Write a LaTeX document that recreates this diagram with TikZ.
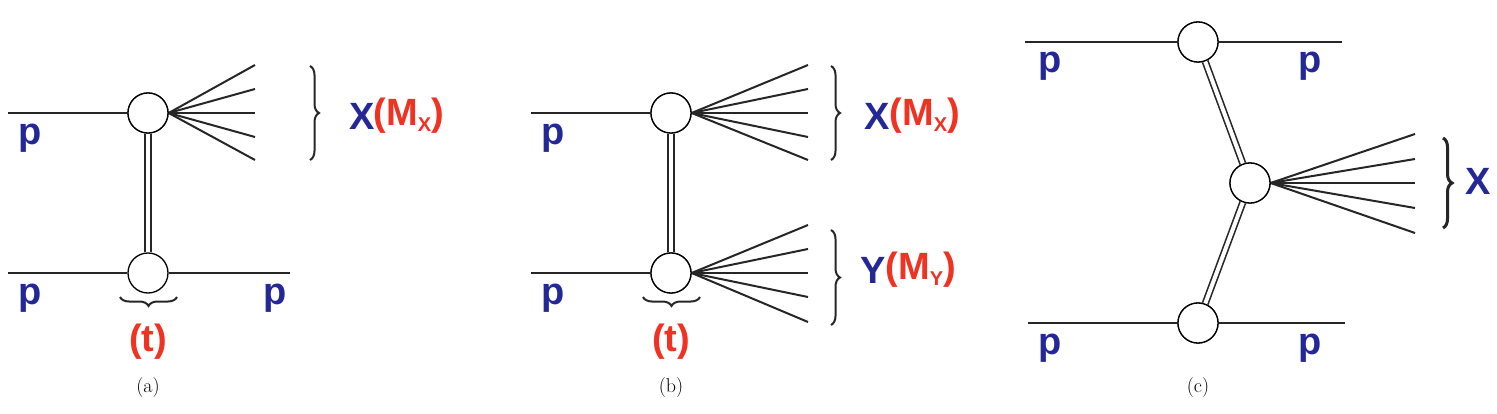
\documentclass[tikz,border=0pt]{standalone}
\usepackage{fontspec}
\setmainfont{Latin Modern Roman}
\newfontfamily\lab{Liberation Sans}
\usetikzlibrary{decorations.pathreplacing}
\definecolor{pblue}{RGB}{35,40,150}
\definecolor{pred}{RGB}{240,50,35}
\begin{document}
\begin{tikzpicture}[x=1pt,y=-1pt,
  vert/.style={circle,draw,line width=1.3pt,minimum size=40pt,inner sep=0pt,fill=white},
  ln/.style={line width=2pt,black!85},
  dbl/.style={line width=1.6pt,double=white,double distance=4pt,black!85},
  pl/.style={text=pblue,font=\lab\bfseries\fontsize{38}{38}\selectfont},
  rl/.style={text=pred,font=\lab\bfseries\fontsize{38}{38}\selectfont},
  br/.style={decorate,decoration={brace,amplitude=9pt},line width=2pt,black!85},
  captxt/.style={font=\fontsize{20}{20}\selectfont}]
\useasboundingbox (0,0) rectangle (1497,414);
% (a)
\node[vert] (a1) at (148,113) {};
\node[vert] (a2) at (148,273) {};
\coordinate (a1l) at (8,113); \coordinate (a2l) at (8,273); \coordinate (a2r) at (290,273);
\draw[ln] (a1l) -- (a1.west); \draw[ln] (a2l) -- (a2.west); \draw[ln] (a2.east) -- (a2r);
\draw[dbl] (a1.south) -- (a2.north);
\foreach \y in {65,89,113,137,160} \draw[ln] (a1.east) -- (255,\y);
\node[vert] at (148,113) {};
\draw[br] (310,66) -- (310,160);
\node[pl] (ax) at (362,116) {X};
\node[rl,anchor=west] (am) at (370,116) {(M\raisebox{-6pt}{\fontsize{20}{20}\selectfont X})};
\node[pl] (ap1) at (30,138) {p}; \node[pl] (ap2) at (30,298) {p}; \node[pl] (ap3) at (275,298) {p};
\draw[br] (177,297) -- (120,297);
\node[rl] (at) at (148,342) {(t)};
\node[captxt] (acap) at (148,388) {(a)};
% (b)
\node[vert] (b1) at (671,113) {};
\node[vert] (b2) at (671,273) {};
\coordinate (b1l) at (531,113); \coordinate (b2l) at (531,273);
\draw[ln] (b1l) -- (b1.west); \draw[ln] (b2l) -- (b2.west);
\draw[dbl] (b1.south) -- (b2.north);
\foreach \y in {65,89,113,137,160} \draw[ln] (b1.east) -- (808,\y);
\foreach \y in {225,249,273,297,322} \draw[ln] (b2.east) -- (808,\y);
\node[vert] at (671,113) {}; \node[vert] at (671,273) {};
\draw[br] (831,66) -- (831,160);
\draw[br] (831,230) -- (831,325);
\node[pl] (bx) at (877,116) {X};
\node[rl,anchor=west] (bm) at (886,116) {(M\raisebox{-6pt}{\fontsize{20}{20}\selectfont X})};
\node[pl] (by) at (873,270) {Y};
\node[rl,anchor=west] (bmy) at (882,270) {(M\raisebox{-6pt}{\fontsize{20}{20}\selectfont Y})};
\node[pl] (bp1) at (553,138) {p}; \node[pl] (bp2) at (553,298) {p};
\draw[br] (700,297) -- (643,297);
\node[rl] (bt) at (671,342) {(t)};
\node[captxt] (bcap) at (671,388) {(b)};
% (c)
\node[vert] (c1) at (1198,42) {};
\node[vert] (c2) at (1250,183) {};
\node[vert] (c3) at (1198,323) {};
\coordinate (c1l) at (1025,42); \coordinate (c1r) at (1342,42);
\coordinate (c3l) at (1028,323); \coordinate (c3r) at (1345,323);
\draw[ln] (c1l) -- (c1.west); \draw[ln] (c1.east) -- (c1r);
\draw[ln] (c3l) -- (c3.west); \draw[ln] (c3.east) -- (c3r);
\draw[dbl] (c1) -- (c2); \draw[dbl] (c3) -- (c2);
\foreach \y in {134,159,183,208,233} \draw[ln] (c2.east) -- (1415,\y);
\node[vert] at (1198,42) {}; \node[vert] at (1250,183) {}; \node[vert] at (1198,323) {};
\draw[br,line width=3pt] (1443,138) -- (1443,228);
\node[pl] (cx) at (1478,181) {X};
\node[pl] (cp1) at (1050,66) {p}; \node[pl] (cp2) at (1310,66) {p};
\node[pl] (cp3) at (1050,348) {p}; \node[pl] (cp4) at (1310,348) {p};
\node[captxt] (ccap) at (1198,388) {(c)};
\end{tikzpicture}
\end{document}
